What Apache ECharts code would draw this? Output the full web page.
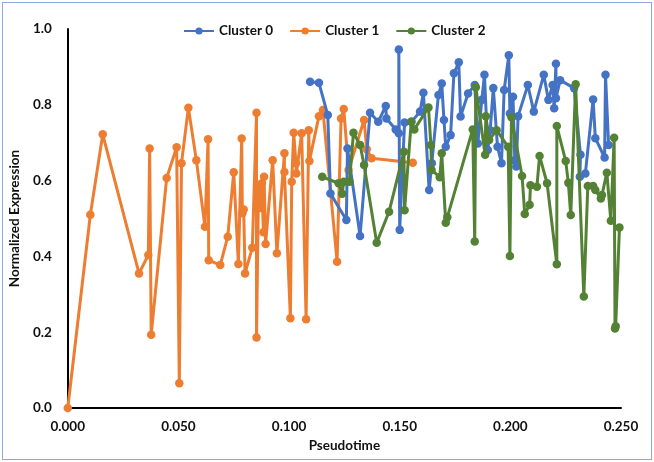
<!DOCTYPE html>
<html>
<head>
<meta charset="utf-8">
<script src="https://cdn.jsdelivr.net/npm/echarts@6/dist/echarts.min.js"></script>
<style>
    html, body { margin: 0; padding: 0; background: #fff; }
    #chart { width: 654px; height: 462px; position: relative; }
    .frame { position: absolute; left: 2px; top: 2px; width: 648px; height: 456px;
             border: 1px solid #8eaadb; pointer-events: none; }
</style>
</head>
<body>
<div id="chart"></div>
<div class="frame"></div>
<script>
// pseudotime / normalized expression
const cluster0X = [0.1095, 0.1135, 0.1175, 0.1187, 0.1259, 0.1264, 0.1321, 0.1366, 0.1403, 0.1437,
    0.1440, 0.1482, 0.1496, 0.1496, 0.1500, 0.1522, 0.1553, 0.1592, 0.1607, 0.1633,
    0.1645, 0.1675, 0.1690, 0.1700, 0.1708, 0.1730, 0.1745, 0.1767, 0.1775, 0.1809,
    0.1839, 0.1853, 0.1871, 0.1883, 0.1898, 0.1909, 0.1923, 0.1942, 0.1960, 0.1972,
    0.1993, 0.1998, 0.2012, 0.2020, 0.2027, 0.2035, 0.2079, 0.2106, 0.2151, 0.2172,
    0.2191, 0.2198, 0.2206, 0.2206, 0.2225, 0.2288, 0.2317, 0.2314, 0.2339, 0.2374,
    0.2384, 0.2426, 0.2430, 0.2444];
const cluster0Y = [0.861, 0.858, 0.773, 0.566, 0.496, 0.685, 0.454, 0.779, 0.755, 0.797,
    0.764, 0.735, 0.725, 0.946, 0.470, 0.753, 0.755, 0.782, 0.832, 0.575,
    0.646, 0.826, 0.856, 0.760, 0.689, 0.720, 0.883, 0.912, 0.769, 0.830,
    0.852, 0.698, 0.813, 0.879, 0.681, 0.733, 0.844, 0.689, 0.646, 0.839,
    0.931, 0.777, 0.821, 0.654, 0.637, 0.770, 0.852, 0.782, 0.879, 0.813,
    0.852, 0.791, 0.908, 0.817, 0.865, 0.844, 0.668, 0.610, 0.619, 0.814,
    0.712, 0.661, 0.879, 0.694];

const cluster1X = [0.0000, 0.0102, 0.0158, 0.0322, 0.0364, 0.0370, 0.0377, 0.0447, 0.0492, 0.0504,
    0.0514, 0.0545, 0.0581, 0.0620, 0.0634, 0.0637, 0.0689, 0.0723, 0.0750, 0.0771,
    0.0786, 0.0789, 0.0795, 0.0801, 0.0834, 0.0853, 0.0853, 0.0862, 0.0871, 0.0877,
    0.0884, 0.0887, 0.0894, 0.0926, 0.0945, 0.0979, 0.0979, 0.1006, 0.1012, 0.1021,
    0.1031, 0.1033, 0.1057, 0.1077, 0.1089, 0.1092, 0.1135, 0.1153, 0.1217, 0.1235,
    0.1247, 0.1269, 0.1339, 0.1351, 0.1373, 0.1559];
const cluster1Y = [0.000, 0.510, 0.722, 0.355, 0.404, 0.685, 0.193, 0.607, 0.688, 0.065,
    0.646, 0.792, 0.654, 0.478, 0.709, 0.390, 0.377, 0.452, 0.622, 0.380,
    0.711, 0.514, 0.524, 0.355, 0.423, 0.779, 0.186, 0.580, 0.528, 0.593,
    0.464, 0.610, 0.433, 0.654, 0.408, 0.672, 0.623, 0.237, 0.597, 0.726,
    0.646, 0.619, 0.725, 0.234, 0.733, 0.652, 0.770, 0.786, 0.386, 0.764,
    0.789, 0.628, 0.760, 0.683, 0.659, 0.647];

const cluster2X = [0.1150, 0.1224, 0.1240, 0.1247, 0.1273, 0.1291, 0.1321, 0.1339, 0.1396, 0.1452,
    0.1519, 0.1522, 0.1552, 0.1566, 0.1630, 0.1641, 0.1644, 0.1681, 0.1690, 0.1708,
    0.1715, 0.1830, 0.1839, 0.1844, 0.1886, 0.1889, 0.1904, 0.1938, 0.1990, 0.1998,
    0.2005, 0.2053, 0.2065, 0.2087, 0.2091, 0.2120, 0.2132, 0.2166, 0.2210, 0.2210,
    0.2250, 0.2262, 0.2273, 0.2295, 0.2332, 0.2350, 0.2374, 0.2384, 0.2409, 0.2414,
    0.2436, 0.2454, 0.2469, 0.2473, 0.2476, 0.2493];
const cluster2Y = [0.610, 0.593, 0.565, 0.597, 0.597, 0.726, 0.694, 0.641, 0.436, 0.518,
    0.676, 0.522, 0.755, 0.735, 0.793, 0.694, 0.628, 0.609, 0.672, 0.489,
    0.503, 0.735, 0.439, 0.846, 0.668, 0.770, 0.707, 0.733, 0.689, 0.401,
    0.767, 0.612, 0.512, 0.536, 0.588, 0.584, 0.665, 0.593, 0.379, 0.744,
    0.652, 0.594, 0.509, 0.854, 0.294, 0.586, 0.586, 0.575, 0.553, 0.562,
    0.621, 0.494, 0.713, 0.210, 0.216, 0.476];

const seriesNames = ['Cluster 0', 'Cluster 1', 'Cluster 2'];
const seriesColors = ['#4472c4', '#ed7d31', '#548235'];

const font = 'Lato, "Open Sans", sans-serif';

function pairs(xs, ys) {
    return xs.map((x, i) => [x, ys[i]]);
}
const allData = [pairs(cluster0X, cluster0Y), pairs(cluster1X, cluster1Y), pairs(cluster2X, cluster2Y)];

const chart = echarts.init(document.getElementById('chart'), null, { renderer: 'canvas' });
chart.setOption({
    animation: false,
    backgroundColor: '#fff',
    color: seriesColors,
    legend: {
        data: seriesNames,
        top: 19,
        left: 178,
        itemGap: 16,
        itemWidth: 30,
        itemHeight: 9,
        textStyle: { fontFamily: font, fontWeight: 'bold', fontSize: 13.5, color: '#111' }
    },
    grid: { left: 63, right: 33, top: 29, bottom: 54 },
    xAxis: {
        type: 'value',
        min: 0, max: 0.25, interval: 0.05,
        name: 'Pseudotime',
        nameLocation: 'middle',
        nameGap: 31,
        nameTextStyle: { fontFamily: font, fontWeight: 'bold', fontSize: 13.5, color: '#111' },
        axisLine: { lineStyle: { color: '#000', width: 2 } },
        axisTick: { show: false },
        splitLine: { show: false },
        axisLabel: {
            fontFamily: font, fontWeight: 'bold', fontSize: 13.5, color: '#111', margin: 12,
            formatter: v => v.toFixed(3)
        }
    },
    yAxis: {
        type: 'value',
        min: 0, max: 1, interval: 0.2,
        name: 'Normalized Expression',
        nameLocation: 'middle',
        nameGap: 40,
        nameTextStyle: { fontFamily: font, fontWeight: 'bold', fontSize: 13.5, color: '#111' },
        axisLine: { show: true, lineStyle: { color: '#000', width: 2 } },
        axisTick: { show: false },
        splitLine: { show: false },
        axisLabel: {
            fontFamily: font, fontWeight: 'bold', fontSize: 13.5, color: '#111', margin: 16,
            formatter: v => v.toFixed(1)
        }
    },
    series: seriesNames.map((name, i) => ({
        name: name,
        type: 'line',
        data: allData[i],
        symbol: 'circle',
        symbolSize: 8.5,
        showSymbol: true,
        lineStyle: { width: 3, color: seriesColors[i] },
        itemStyle: { color: seriesColors[i] },
        z: i === 1 ? 2 : (i === 0 ? 3 : 4)
    }))
});
</script>
</body>
</html>
